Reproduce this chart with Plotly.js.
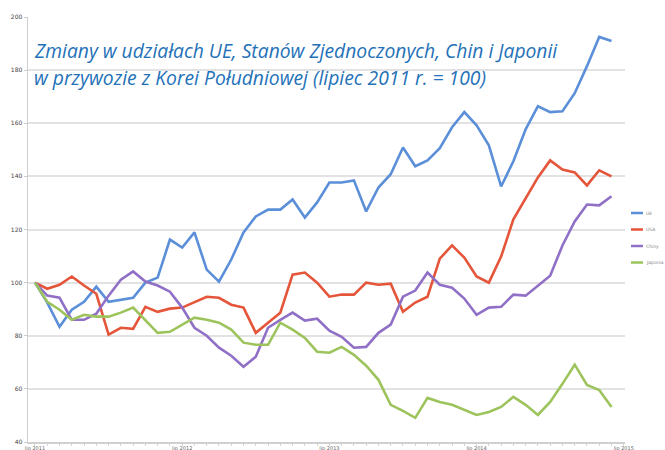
<!DOCTYPE html>
<html>
<head>
<meta charset="utf-8">
<script src="https://cdn.plot.ly/plotly-3.0.1.min.js"></script>
<style>
  html, body { margin: 0; padding: 0; background: #fff; }
  #chart { width: 665px; height: 450px; }
</style>
</head>
<body>
<div id="chart"></div>
<script>
// Months: July 2011 .. June 2015 (index positions on the x axis)
const months = [
  "lip 2011","sie 2011","wrz 2011","paź 2011","lis 2011","gru 2011",
  "sty 2012","lut 2012","mar 2012","kwi 2012","maj 2012","cze 2012",
  "lip 2012","sie 2012","wrz 2012","paź 2012","lis 2012","gru 2012",
  "sty 2013","lut 2013","mar 2013","kwi 2013","maj 2013","cze 2013",
  "lip 2013","sie 2013","wrz 2013","paź 2013","lis 2013","gru 2013",
  "sty 2014","lut 2014","mar 2014","kwi 2014","maj 2014","cze 2014",
  "lip 2014","sie 2014","wrz 2014","paź 2014","lis 2014","gru 2014",
  "sty 2015","lut 2015","mar 2015","kwi 2015","maj 2015","cze 2015"
];

const seriesNames = ["UE", "USA", "Chiny", "Japonia"];

const ue = [100, 92.5, 83.4, 89.8, 92.8, 98.5, 92.8, 93.6, 94.3, 100, 101.9, 116.2,
  113.2, 118.9, 104.9, 100.4, 108.7, 118.9, 124.9, 127.5, 127.5, 131.3, 124.5, 130.2,
  137.7, 137.7, 138.5, 126.8, 135.8, 140.8, 150.9, 143.8, 146, 150.6, 158.5, 164.2,
  159.2, 151.7, 136.2, 145.7, 157.7, 166.4, 164.2, 164.5, 171.3, 181.5, 192.5, 191];

const usa = [100, 97.7, 99.2, 102.3, 98.9, 95.8, 80.4, 83, 82.6, 90.9, 89, 90.2,
  90.6, 92.8, 94.7, 94.3, 91.7, 90.6, 81.1, 84.9, 88.7, 103, 103.8, 100,
  94.7, 95.5, 95.5, 100, 99.2, 99.6, 89, 92.5, 94.7, 109, 114, 109.4,
  102.3, 100, 109.8, 123.8, 131.7, 139.6, 146, 142.6, 141.5, 136.6, 142.3, 140];

const chiny = [100, 95.1, 94.3, 86.0, 86.0, 88.3, 95.1, 101.1, 104.2, 100.4, 98.9, 96.6,
  90.6, 83.0, 80.0, 75.5, 72.5, 68.3, 72.1, 83.0, 86.0, 88.7, 85.7, 86.4,
  81.9, 79.6, 75.5, 75.8, 81.1, 84.2, 94.7, 97.0, 103.8, 99.2, 98.1, 94.0,
  87.9, 90.6, 90.9, 95.5, 95.1, 98.9, 102.6, 114.0, 123.0, 129.4, 129.1, 132.5];

const japonia = [100, 92.8, 89.8, 86.0, 87.9, 87.2, 87.2, 88.7, 90.6, 86.0, 81.1, 81.5,
  84.2, 86.8, 86.0, 84.9, 82.3, 77.4, 76.6, 76.6, 84.9, 82.3, 79.2, 74.0,
  73.6, 75.8, 72.8, 68.7, 63.4, 54.0, 51.7, 49.1, 56.6, 55.1, 54.0, 52.1,
  50.2, 51.3, 53.2, 57.0, 54.0, 50.2, 55.1, 61.9, 69.1, 61.5, 59.6, 53.2];

const yTicks = [40, 60, 80, 100, 120, 140, 160, 180, 200];
const xTickPos = [0, 12, 24, 36, 48];
const xTickLabels = ["lip 2011", "lip 2012", "lip 2013", "lip 2014", "lip 2015"];

const colors = ["#5b8fd8", "#e4553a", "#9070c6", "#9dc45c"];
const allSeries = [ue, usa, chiny, japonia];

const xIdx = months.map((m, i) => i);

const traces = allSeries.map((vals, k) => ({
  x: xIdx,
  y: vals,
  text: months,
  name: seriesNames[k],
  type: "scatter",
  mode: "lines",
  line: { color: colors[k], width: 2.6 },
  showlegend: false,
  hovertemplate: "%{text}: %{y}<extra>" + seriesNames[k] + "</extra>"
}));

// Compact legend (short line samples + tiny grey labels)
const legendShapes = [];
const legendAnnots = [];
const legY = [213, 229.5, 246, 262.5]; // pixel rows
const plotTop = 17, plotBot = 442, plotL = 28, plotR = 625;
function py(p) { return (plotBot - p) / (plotBot - plotTop); }
function px(p) { return (p - plotL) / (plotR - plotL); }
seriesNames.forEach((n, k) => {
  legendShapes.push({
    type: "line", xref: "paper", yref: "paper",
    x0: px(631), x1: px(643), y0: py(legY[k]), y1: py(legY[k]),
    line: { color: colors[k], width: 2.5 }
  });
  legendAnnots.push({
    xref: "paper", yref: "paper", x: px(644), y: py(legY[k]),
    xanchor: "left", yanchor: "middle", showarrow: false,
    text: n, font: { family: "DejaVu Sans", size: 4.5, color: "#888" }
  });
});

const layout = {
  width: 665, height: 450,
  margin: { l: plotL, r: 665 - plotR, t: plotTop, b: 450 - plotBot },
  paper_bgcolor: "#fff", plot_bgcolor: "#fff",
  showlegend: false,
  xaxis: {
    range: [-0.57, 48.1],
    tickmode: "array", tickvals: xTickPos, ticktext: xTickLabels,
    showgrid: false, zeroline: false,
    showline: true, linecolor: "#d0d0d0", linewidth: 1.5,
    ticks: "", ticklabelstandoff: 0,
    tickfont: { family: "DejaVu Sans", size: 5, color: "#666" },
    minor: { dtick: 1, tick0: 0, ticks: "outside", ticklen: 2, tickcolor: "#d5d5d5", showgrid: false }
  },
  yaxis: {
    range: [40, 200],
    tickmode: "array", tickvals: yTicks,
    showgrid: true, gridcolor: "#e2e2e2", gridwidth: 2,
    zeroline: false,
    showline: true, linecolor: "#cfcfcf", linewidth: 1.5,
    ticks: "outside", ticklen: 3, tickcolor: "#ccc",
    tickfont: { family: "DejaVu Sans", size: 6, color: "#444" }
  },
  shapes: [
    { type: "rect", xref: "paper", yref: "paper", layer: "below",
      x0: px(30), x1: px(565), y0: py(100), y1: py(24),
      fillcolor: "#ffffff", line: { width: 0 } }
  ].concat(legendShapes),
  annotations: [
    { xref: "paper", yref: "paper", x: px(32), y: py(51), xanchor: "left", yanchor: "middle",
      showarrow: false,
      text: "Zmiany w udziałach UE, Stanów Zjednoczonych, Chin i Japonii",
      font: { family: "Open Sans", size: 19.3, color: "#2371b8", style: "italic" } },
    { xref: "paper", yref: "paper", x: px(32), y: py(77), xanchor: "left", yanchor: "middle",
      showarrow: false,
      text: "w przywozie z Korei Południowej (lipiec 2011 r. = 100)",
      font: { family: "Open Sans", size: 19.3, color: "#2371b8", style: "italic" } }
  ].concat(legendAnnots)
};

Plotly.newPlot("chart", traces, layout, { displayModeBar: false, staticPlot: true });
</script>
</body>
</html>
